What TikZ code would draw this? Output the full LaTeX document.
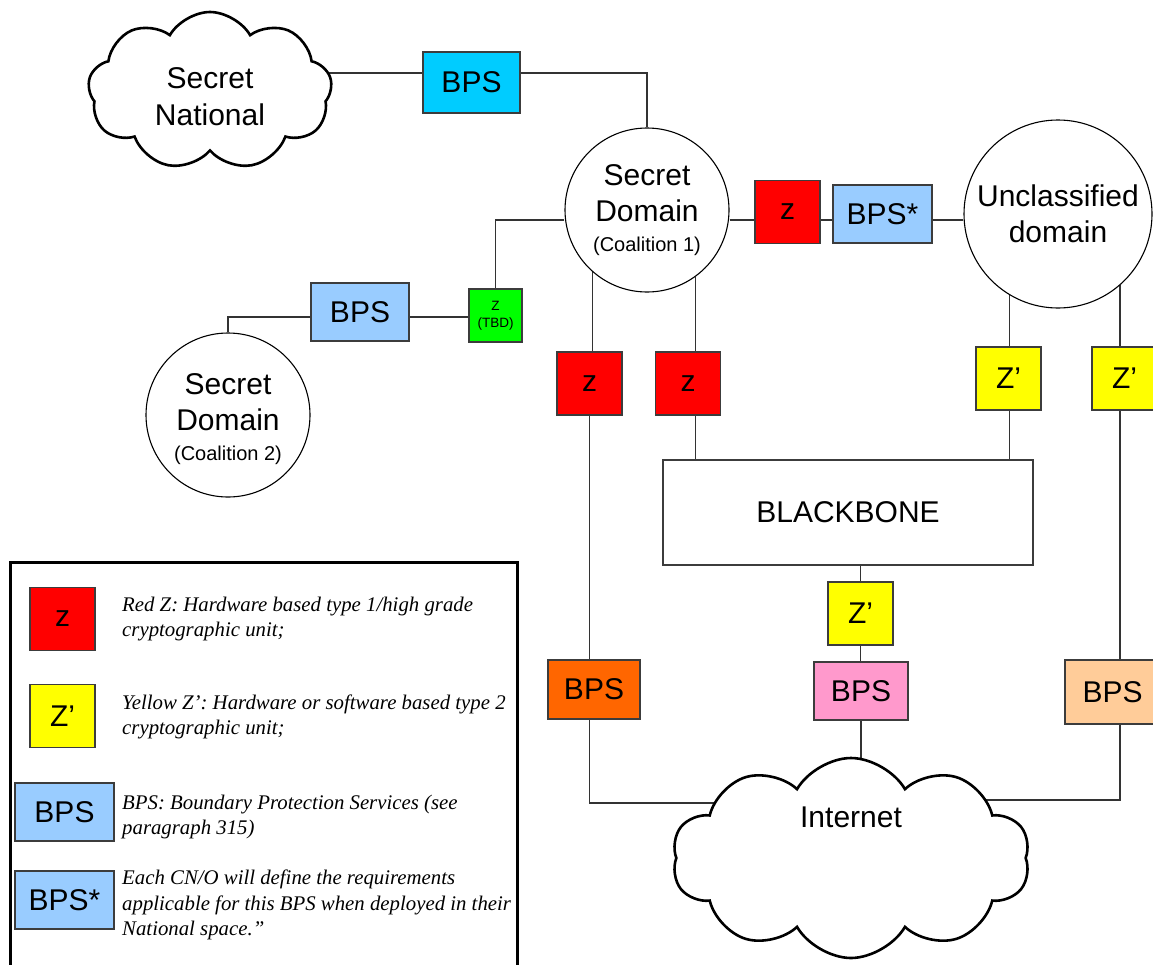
\documentclass[tikz,border=0pt]{standalone}
\usepackage{fontspec}
\setmainfont{Liberation Sans}
\newfontfamily\legfont{Liberation Serif}
\usetikzlibrary{shapes.symbols}
\pgfdeclarelayer{bg}
\pgfdeclarelayer{paper}
\pgfsetlayers{paper,bg,main}
\definecolor{cyanb}{RGB}{0,204,255}
\definecolor{lblue}{RGB}{153,204,255}
\definecolor{zredc}{RGB}{255,0,0}
\definecolor{zyelc}{RGB}{255,255,0}
\definecolor{greenb}{RGB}{0,255,0}
\definecolor{orangeb}{RGB}{255,102,0}
\definecolor{pinkb}{RGB}{255,153,204}
\definecolor{peachb}{RGB}{255,204,153}
\definecolor{boxline}{RGB}{60,60,60}
\tikzset{
  cunit/.style={draw=boxline, line width=1.4pt, inner sep=0pt, align=center, font=\fontsize{30}{36}\selectfont},
  zredbox/.style={cunit, fill=zredc, minimum width=65pt, minimum height=63pt},
  zyelbox/.style={cunit, fill=zyelc, minimum width=65pt, minimum height=63pt},
  bpsbox/.style={cunit},
  domcircle/.style={circle, draw=black, line width=1.1pt, fill=white, minimum size=164pt, inner sep=0pt, align=center, font=\fontsize{30}{36}\selectfont},
  cloudy/.style={cloud, cloud ignores aspect, cloud puff arc=120, draw=black, line width=2.6pt, fill=white, inner sep=0pt, align=center, font=\fontsize{30}{37}\selectfont},
  wire/.style={draw=black!80, line width=1.2pt},
  bigtext/.style={align=center, inner sep=0pt, font=\fontsize{30}{37}\selectfont},
  legtext/.style={anchor=west, align=left, inner sep=0pt, font=\legfont\itshape\fontsize{20.8}{25.5}\selectfont}
}
\begin{document}
\begin{tikzpicture}[x=1pt,y=-1pt]
\useasboundingbox (0,0) rectangle (1153,964);
\begin{pgfonlayer}{paper}
\fill[white] (0,0) rectangle (1153,964);
\end{pgfonlayer}

% top area
\node[cloudy, cloud puffs=9, minimum width=244pt, minimum height=158pt] (snat) at (210,91) {};
\node[bigtext] (snatlabel) at (210,97) {Secret\\National};
\node[bpsbox, fill=cyanb, minimum width=97pt, minimum height=61pt] (bpsT) at (471.5,82.5) {BPS};
\node[domcircle] (sd1) at (647,210) {Secret\\Domain\\[-6pt]{\fontsize{20}{24}\selectfont(Coalition 1)}};
\node[zredbox] (zT) at (787.5,212) {z};
\node[bpsbox, fill=lblue, minimum width=99pt, minimum height=58pt] (bpsS) at (882.5,214) {BPS*};
\node[domcircle, minimum size=188pt] (ucd) at (1058,214) {Unclassified\\domain};

% middle
\node[zyelbox] (zp1) at (1008.5,378.5) {Z’};
\node[zyelbox] (zp2) at (1124.5,378.5) {Z’};
\node[zredbox] (zL) at (589.5,383.5) {z};
\node[zredbox] (zR) at (688,383.5) {z};
\node[cunit, fill=white, line width=1.2pt, minimum width=370pt, minimum height=105pt] (bb) at (848,512.5) {BLACKBONE};
\node[zyelbox] (zpM) at (860.5,613.5) {Z’};
\node[bpsbox, fill=pinkb, minimum width=94pt, minimum height=58pt] (bpsP) at (861,691) {BPS};
\node[bpsbox, fill=orangeb, minimum width=92pt, minimum height=59pt] (bpsO) at (594,689.5) {BPS};
\node[bpsbox, fill=peachb, minimum width=95pt, minimum height=64pt] (bpsC) at (1112.5,692) {BPS};
\node[cloudy, cloud puffs=10, minimum width=358pt, minimum height=200pt] (inet) at (851,858) {};
\node[bigtext] (inetlabel) at (851,817) {Internet};

% left
\node[cunit, fill=greenb, minimum size=53pt, font=\fontsize{13.5}{16.5}\selectfont] (zG) at (495.5,315.5) {Z\\(TBD)};
\node[bpsbox, fill=lblue, minimum width=98pt, minimum height=58pt] (bpsL) at (360,312) {BPS};
\node[domcircle] (sd2) at (228,415) {\\[-6pt]Secret\\Domain\\[-6pt]{\fontsize{20}{24}\selectfont(Coalition 2)}};

% connectors
\begin{pgfonlayer}{bg}
\coordinate (j1) at (647,73);
\coordinate (r2) at (750,220);
\coordinate (j4) at (228,317);
\coordinate (j5) at (590,803);
\coordinate (j6) at (1121,800);
\draw[wire] (snat.center |- j1) -- (bpsT.west |- j1);
\draw[wire] (bpsT.east |- j1) -- (j1) -- (sd1.north);
\draw[wire] (sd1.east |- r2) -- (zT.west |- r2);
\draw[wire] (zT.east |- r2) -- (bpsS.west |- r2);
\draw[wire] (bpsS.east |- r2) -- (ucd.west |- r2);
\draw[wire] (sd1.west |- r2) -- (zG.north |- r2) -- (zG.north);
\draw[wire] (bpsL.east |- j4) -- (zG.west |- j4);
\draw[wire] (bpsL.west |- j4) -- (sd2.north |- j4) -- (sd2.north);
\draw[wire] (sd1.229) -- (sd1.229 |- zL.north);
\draw[wire] (sd1.306) -- (sd1.306 |- zR.north);
\draw[wire] (zL.south) -- (zL.south |- bpsO.north);
\draw[wire] (zL.south |- bpsO.south) -- (zL.south |- j5) -- (inet.center |- j5);
\draw[wire] (sd1.306 |- zR.south) -- (sd1.306 |- bb.north);
\draw[wire] (ucd.239) -- (ucd.239 |- zp1.north);
\draw[wire] (ucd.239 |- zp1.south) -- (ucd.239 |- bb.north);
\draw[wire] (ucd.311) -- (ucd.311 |- zp2.north);
\draw[wire] (ucd.311 |- zp2.south) -- (ucd.311 |- bpsC.north);
\draw[wire] (ucd.311 |- bpsC.south) -- (ucd.311 |- j6) -- (inet.center |- j6);
\draw[wire] (zpM.north |- bb.south) -- (zpM.north);
\draw[wire] (zpM.south) -- (zpM.south |- bpsP.north);
\draw[wire] (bpsP.south) -- (bpsP.south |- inet.center);
\end{pgfonlayer}

% legend
\draw[line width=3pt] (10,562) rectangle (517,1000);
\node[zredbox] (lz) at (62.5,619) {z};
\node[zyelbox] (lzp) at (62.5,716) {Z’};
\node[bpsbox, fill=lblue, minimum width=99pt, minimum height=58pt] (lb) at (64.5,812) {BPS};
\node[bpsbox, fill=lblue, minimum width=99pt, minimum height=58pt] (lbs) at (64.5,900) {BPS*};
\node[legtext] (t1) at (122,619) {Red Z: Hardware based type 1/high grade\\cryptographic unit;};
\node[legtext] (t2) at (122,717) {Yellow Z’: Hardware or software based type 2\\cryptographic unit;};
\node[legtext] (t3) at (122,817) {BPS: Boundary Protection Services (see\\paragraph 315)};
\node[legtext] (t4) at (122,905) {Each CN/O will define the requirements\\applicable for this BPS when deployed in their\\National space.”};
\end{tikzpicture}
\end{document}
